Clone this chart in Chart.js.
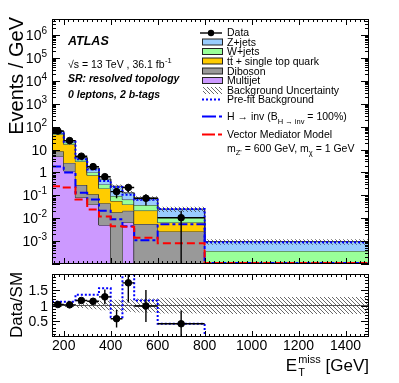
<!DOCTYPE html>
<html>
<head>
<meta charset="utf-8">
<script src="https://cdn.jsdelivr.net/npm/chart.js@4"></script>
<style>
  body { margin: 0; background: #fff; }
  #wrap { position: relative; width: 399px; height: 383px; }
  canvas { position: absolute; left: 0; }
</style>
</head>
<body>
<div id="wrap">
  <canvas id="main" width="399" height="269" style="top:0"></canvas>
  <canvas id="ratio" width="399" height="114" style="top:269px"></canvas>
</div>
<script>
// E_T^miss bins (GeV)
const binEdges = [150, 200, 250, 300, 350, 400, 450, 500, 600, 800, 1500];

// events / GeV
const dataVals = [64, 24.5, 5.1, 1.78, 0.65, 0.145, 0.22, 0.074, 0.0105, 0];
const dataErr  = [2.0, 1.0, 0.35, 0.17, 0.12, 0.07, 0.08, 0.038, 0.0105, 0];

const multijet = [5.0, 1.15, 0.08, 0.04, 0.005, 0.00003, 0.0065, 0.00003, 0.00003, 0.00002];
const diboson  = [3.4, 1.45, 0.2, 0.07, 0.04, 0.018, 0.0145, 0.0055, 0.0026, 0.00003];
const ttbar    = [36.6, 14.4, 2.72, 0.64, 0.155, 0.038, 0.019, 0.016, 0.0039, 0.00003];
const wjets    = [6.0, 3.0, 0.6, 0.25, 0.1, 0.037, 0.025, 0.016, 0.0042, 0.00029];
const zjets    = [11.0, 4.0, 0.8, 0.57, 0.21, 0.157, 0.063, 0.0375, 0.0143, 0.00058];

const prefit   = [57, 21.9, 3.8, 1.33, 0.42, 0.23, 0.107, 0.064, 0.025, 0.0009];
const hinv     = [1.8, 1.0, 0.13, 0.065, 0.021, 0.009, 0.0045, 0.0011, 0.0055, 0.00011];
const vmed     = [0.25, 0.22, 0.065, 0.024, 0.012, 0.0045, 0.0042, 0.0014, 0.0008, 0.00011];
const bkgUnc   = [0.04, 0.05, 0.08, 0.12, 0.15, 0.18, 0.2, 0.22, 0.25, 0.27]; // relative

const xTickLabels = [200, 400, 600, 800, 1000, 1200, 1400];
const ratioTickLabels = ['0.5', '1', '1.5'];

const FONT = '"Liberation Sans", Arial, sans-serif';
const binMid = binEdges.slice(0, -1).map((lo, i) => (lo + binEdges[i + 1]) / 2);

function steps(vals) {
  const pts = [];
  vals.forEach((v, i) => {
    pts.push({x: binEdges[i], y: v});
    pts.push({x: binEdges[i + 1], y: v});
  });
  return pts;
}

function hatch() {
  const c = document.createElement('canvas');
  c.width = 4; c.height = 4;
  const g = c.getContext('2d');
  g.strokeStyle = '#444'; g.lineWidth = 0.8;
  g.beginPath();
  g.moveTo(-1, -1); g.lineTo(5, 5);
  g.moveTo(-3, 1); g.lineTo(1, 5);
  g.moveTo(3, -1); g.lineTo(5, 1);
  g.stroke();
  return g.createPattern(c, 'repeat');
}
const hatchFill = hatch();

// cumulative stack
const comps = [multijet, diboson, ttbar, wjets, zjets];
const compCols = ['#cc99ff', '#999999', '#ffcc00', '#99ff99', '#99ccff'];
const cum = [];
let run = binMid.map(() => 0);
comps.forEach(c => { run = run.map((r, i) => r + c[i]); cum.push(run.slice()); });
const total = cum[cum.length - 1];

const mainSets = [];
cum.forEach((c, k) => mainSets.push({
  data: steps(c), fill: k === 0 ? 'start' : '-1', backgroundColor: compCols[k],
  borderColor: '#333', borderWidth: 1, pointRadius: 0, order: 30 - k
}));
mainSets.push({data: steps(total.map((t, i) => t * (1 - bkgUnc[i]))), fill: false, borderWidth: 0, pointRadius: 0, order: 20});
mainSets.push({data: steps(total.map((t, i) => t * (1 + bkgUnc[i]))), fill: '-1', backgroundColor: hatchFill, borderWidth: 0, pointRadius: 0, order: 19});
mainSets.push({data: steps(prefit), fill: false, borderColor: '#0000ff', borderDash: [2, 2], borderWidth: 2, pointRadius: 0, order: 8});
mainSets.push({data: steps(hinv), fill: false, borderColor: '#0000ff', borderDash: [9, 3, 3, 3], borderWidth: 2, pointRadius: 0, order: 7});
mainSets.push({data: steps(vmed), fill: false, borderColor: '#ff0000', borderDash: [8, 4], borderWidth: 2, pointRadius: 0, order: 6});
mainSets.push({data: dataVals.map((v, i) => ({x: binMid[i], y: v > 0 ? v : null})), showLine: false,
  pointRadius: 3.3, pointBackgroundColor: '#000', pointBorderColor: '#000', order: 0});

const ratioVals = dataVals.map((v, i) => v / total[i]);
const ratioErr = dataErr.map((e, i) => e / total[i]);
const prefitRatio = dataVals.map((v, i) => v / prefit[i]);
const unity = binMid.map(() => 1);

const ratioSets = [
  {data: steps(bkgUnc.map(u => 1 - u)), fill: false, borderWidth: 0, pointRadius: 0, order: 20},
  {data: steps(bkgUnc.map(u => 1 + u)), fill: '-1', backgroundColor: hatchFill, borderWidth: 0, pointRadius: 0, order: 19},
  {data: steps(unity), fill: false, borderColor: '#555', borderWidth: 1, pointRadius: 0, order: 10},
  {data: steps(prefitRatio), fill: false, borderColor: '#0000ff', borderDash: [2, 2], borderWidth: 2, pointRadius: 0, order: 5},
  {data: ratioVals.map((v, i) => ({x: binMid[i], y: dataVals[i] > 0 ? v : null})), showLine: false,
    pointRadius: 3.3, pointBackgroundColor: '#000', pointBorderColor: '#000', order: 0}
];

function errorBars(vals, errs, isLog) {
  return {
    id: 'errbars',
    afterDatasetsDraw(chart) {
      const {ctx, chartArea: a, scales: {x, y}} = chart;
      ctx.save();
      ctx.beginPath(); ctx.rect(a.left, a.top, a.right - a.left, a.bottom - a.top); ctx.clip();
      ctx.strokeStyle = '#000'; ctx.lineWidth = 1.4;
      ctx.beginPath();
      vals.forEach((v, i) => {
        if (!(dataVals[i] > 0)) return;
        const px = x.getPixelForValue(binMid[i]), py = y.getPixelForValue(v);
        const lo = v - errs[i];
        const pLo = (isLog && lo <= 0) ? a.bottom : y.getPixelForValue(lo);
        ctx.moveTo(px, y.getPixelForValue(v + errs[i])); ctx.lineTo(px, pLo);
        ctx.moveTo(x.getPixelForValue(binEdges[i]), py); ctx.lineTo(x.getPixelForValue(binEdges[i + 1]), py);
      });
      ctx.stroke();
      ctx.restore();
    }
  };
}

function xTicks(ctx, a, x, major, minor) {
  for (let v = 160; v < 1500; v += 20) {
    const px = Math.round(x.getPixelForValue(v)) + 0.5;
    const len = v % 200 === 0 ? major : minor;
    ctx.moveTo(px, a.top); ctx.lineTo(px, a.top + len);
    ctx.moveTo(px, a.bottom); ctx.lineTo(px, a.bottom - len);
  }
}

function powLabel(ctx, e, xr, yc) {
  if (e === 0 || e === 1) {
    ctx.font = '14px ' + FONT; ctx.textAlign = 'right';
    ctx.fillText(e === 0 ? '1' : '10', xr, yc + 5);
    return;
  }
  const ex = String(e);
  ctx.font = '10px ' + FONT; ctx.textAlign = 'right';
  const we = ctx.measureText(ex).width;
  ctx.fillText(ex, xr, yc - 1);
  ctx.font = '14px ' + FONT;
  ctx.fillText('10', xr - we, yc + 5);
}

function legendText(ctx, s, x, y) {
  ctx.font = '10.5px ' + FONT; ctx.textAlign = 'left';
  ctx.fillText(s, x, y);
}

const mainDecor = {
  id: 'mainDecor',
  afterDraw(chart) {
    const {ctx, chartArea: a, scales: {x, y}} = chart;
    ctx.save();
    ctx.fillStyle = '#000'; ctx.strokeStyle = '#000'; ctx.lineWidth = 1;
    ctx.strokeRect(a.left + 0.5, a.top + 0.5, a.right - a.left - 1, a.bottom - a.top - 1);
    ctx.beginPath();
    xTicks(ctx, a, x, 6, 3);
    for (let e = -4; e <= 6; e++) for (let k = 1; k <= 9; k++) {
      const v = k * Math.pow(10, e);
      if (v < y.min * 0.999 || v > y.max) continue;
      const py = Math.round(y.getPixelForValue(v)) + 0.5;
      const len = k === 1 ? 8 : 4;
      ctx.moveTo(a.left, py); ctx.lineTo(a.left + len, py);
      ctx.moveTo(a.right, py); ctx.lineTo(a.right - len, py);
    }
    ctx.stroke();
    for (let e = -3; e <= 6; e++) powLabel(ctx, e, 47, y.getPixelForValue(Math.pow(10, e)));

    // y title
    ctx.save();
    ctx.translate(23, 17); ctx.rotate(-Math.PI / 2);
    ctx.font = '20px ' + FONT; ctx.textAlign = 'right';
    ctx.fillText('Events / GeV', 0, 0);
    ctx.restore();

    // ATLAS block
    ctx.textAlign = 'left';
    ctx.font = 'italic bold 12.5px ' + FONT;
    ctx.fillText('ATLAS', 68, 45);
    ctx.font = '10.5px ' + FONT;
    const s1 = '\u221As = 13 TeV , 36.1 fb';
    ctx.fillText(s1, 68, 67.5);
    const w1 = ctx.measureText(s1).width;
    ctx.font = '7.5px ' + FONT;
    ctx.fillText('-1', 68 + w1 + 0.5, 63);
    ctx.font = 'italic bold 10.5px ' + FONT;
    ctx.fillText('SR: resolved topology', 68, 82);
    ctx.fillText('0 leptons, 2 b-tags', 68, 97.5);

    // legend
    const tx = 227;
    ctx.beginPath(); ctx.lineWidth = 1.4;
    ctx.moveTo(200, 33); ctx.lineTo(222, 33); ctx.stroke();
    ctx.beginPath(); ctx.arc(211, 33, 3.2, 0, Math.PI * 2); ctx.fill();
    legendText(ctx, 'Data', tx, 36);
    const boxRows = [['Z+jets', 45.5, 4], ['W+jets', 55, 3], ['tt + single top quark', 64.5, 2], ['Diboson', 74.5, 1], ['Multijet', 84, 0]];
    boxRows.forEach(([label, by, k]) => {
      ctx.fillStyle = compCols[k];
      ctx.fillRect(202, by - 6.5, 20, 6);
      ctx.strokeStyle = '#222'; ctx.lineWidth = 1;
      ctx.strokeRect(202.5, by - 6.5, 20, 6);
      ctx.fillStyle = '#000';
      legendText(ctx, label, tx, by);
    });
    // overline on the anti-top
    ctx.font = '10.5px ' + FONT;
    const wt = ctx.measureText('t').width;
    ctx.beginPath(); ctx.lineWidth = 0.8;
    ctx.moveTo(tx + wt + 0.3, 56.3); ctx.lineTo(tx + 2 * wt, 56.3); ctx.stroke();

    ctx.fillStyle = hatchFill;
    ctx.fillRect(203, 87, 19, 7);
    ctx.fillStyle = '#000';
    legendText(ctx, 'Background Uncertainty', tx, 93.5);

    ctx.strokeStyle = '#0000ff'; ctx.lineWidth = 2;
    ctx.setLineDash([2, 2]);
    ctx.beginPath(); ctx.moveTo(202, 99.5); ctx.lineTo(222, 99.5); ctx.stroke();
    ctx.setLineDash([]);
    legendText(ctx, 'Pre-fit Background', tx, 103);

    ctx.beginPath(); ctx.moveTo(202, 116.5); ctx.lineTo(216, 116.5);
    ctx.moveTo(219, 116.5); ctx.lineTo(222, 116.5); ctx.stroke();
    ctx.font = '10.5px ' + FONT;
    let cx = tx;
    const hA = 'H \u2192 inv (B';
    ctx.fillText(hA, cx, 120); cx += ctx.measureText(hA).width;
    ctx.font = '7.5px ' + FONT;
    const hB = 'H \u2192 inv';
    ctx.fillText(hB, cx, 123.5); cx += ctx.measureText(hB).width;
    ctx.font = '10.5px ' + FONT;
    ctx.fillText(' = 100%)', cx, 120);

    ctx.strokeStyle = '#ff0000';
    ctx.beginPath(); ctx.moveTo(202, 134.5); ctx.lineTo(215, 134.5);
    ctx.moveTo(218, 134.5); ctx.lineTo(222, 134.5); ctx.stroke();
    legendText(ctx, 'Vector Mediator Model', tx, 137.5);

    cx = tx;
    const parts = [['m', 10.5, 0], ['Z\'', 7.5, 3], [' = 600 GeV, m', 10.5, 0], ['\u03c7', 7.5, 3], [' = 1 GeV', 10.5, 0]];
    parts.forEach(([s, sz, dy]) => {
      ctx.font = sz + 'px ' + FONT;
      ctx.fillText(s, cx, 151.5 + dy);
      cx += ctx.measureText(s).width;
    });
    ctx.restore();
  }
};

const ratioDecor = {
  id: 'ratioDecor',
  afterDraw(chart) {
    const {ctx, chartArea: a, scales: {x, y}} = chart;
    ctx.save();
    ctx.fillStyle = '#000'; ctx.strokeStyle = '#000'; ctx.lineWidth = 1;
    ctx.strokeRect(a.left + 0.5, a.top + 0.5, a.right - a.left - 1, a.bottom - a.top - 1);
    ctx.beginPath();
    xTicks(ctx, a, x, 6, 3);
    for (let k = 1; k < 20; k++) {
      const py = Math.round(y.getPixelForValue(k / 10)) + 0.5;
      const len = k % 5 === 0 ? 8 : 4;
      ctx.moveTo(a.left, py); ctx.lineTo(a.left + len, py);
      ctx.moveTo(a.right, py); ctx.lineTo(a.right - len, py);
    }
    ctx.stroke();

    ctx.font = '14px ' + FONT;
    ctx.textAlign = 'right';
    ratioTickLabels.forEach(s => ctx.fillText(s, 48, y.getPixelForValue(parseFloat(s)) + 5));
    ctx.textAlign = 'center';
    xTickLabels.forEach(v => ctx.fillText(String(v), x.getPixelForValue(v), 81));

    // axis titles
    ctx.save();
    ctx.translate(22, 36); ctx.rotate(-Math.PI / 2);
    ctx.font = '17px ' + FONT; ctx.textAlign = 'center';
    ctx.fillText('Data/SM', 0, 0);
    ctx.restore();

    ctx.textAlign = 'left';
    ctx.font = '17px ' + FONT;
    const wG = ctx.measureText(' [GeV]').width;
    const wE = ctx.measureText('E').width;
    ctx.font = '11px ' + FONT;
    const wM = ctx.measureText('miss').width;
    const x0 = a.right - wG - wM - wE - 1;
    ctx.font = '17px ' + FONT;
    ctx.fillText('E', x0, 102);
    ctx.fillText(' [GeV]', x0 + wE + wM + 1, 102);
    ctx.font = '11px ' + FONT;
    ctx.fillText('miss', x0 + wE + 1, 94);
    ctx.fillText('T', x0 + wE + 1, 107);
    ctx.restore();
  }
};

new Chart(document.getElementById('main'), {
  type: 'line',
  data: {datasets: mainSets},
  options: {
    responsive: false, animation: false, events: [],
    layout: {padding: {left: 52, right: 30, top: 19, bottom: 4}},
    plugins: {legend: {display: false}, tooltip: {enabled: false}},
    scales: {
      x: {type: 'linear', min: 150, max: 1500, display: false},
      y: {type: 'logarithmic', min: 1e-4, max: 5e6, display: false}
    }
  },
  plugins: [errorBars(dataVals, dataErr, true), mainDecor]
});

new Chart(document.getElementById('ratio'), {
  type: 'line',
  data: {datasets: ratioSets},
  options: {
    responsive: false, animation: false, events: [],
    layout: {padding: {left: 52, right: 30, top: 4, bottom: 46}},
    plugins: {legend: {display: false}, tooltip: {enabled: false}},
    scales: {
      x: {type: 'linear', min: 150, max: 1500, display: false},
      y: {type: 'linear', min: 0, max: 2, display: false}
    }
  },
  plugins: [errorBars(ratioVals, ratioErr, false), ratioDecor]
});
</script>
</body>
</html>
